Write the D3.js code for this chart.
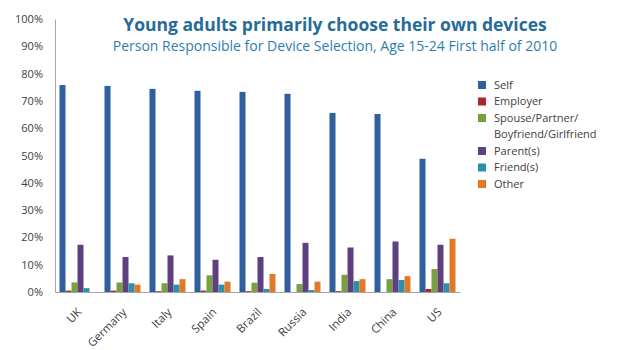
<!DOCTYPE html>
<html>
<head>
<meta charset="utf-8">
<script src="https://cdn.jsdelivr.net/npm/d3@7"></script>
<style>
  html, body { margin: 0; padding: 0; background: #fff; }
  svg { display: block; font-family: "Open Sans", sans-serif; }
</style>
</head>
<body>
<svg id="chart" width="620" height="350"></svg>
<script>
const categories = ["UK", "Germany", "Italy", "Spain", "Brazil", "Russia", "India", "China", "US"];
const seriesNames = ["Self", "Employer", "Spouse/Partner/\nBoyfriend/Girlfriend", "Parent(s)", "Friend(s)", "Other"];
const selfValues     = [75.8, 75.5, 74.4, 73.7, 73.3, 72.6, 65.6, 65.2, 48.8];
const employerValues = [0.5, 0.5, 0.3, 0.5, 0.3, 0.0, 0.3, 0.0, 1.1];
const spouseValues   = [3.5, 3.5, 3.2, 6.1, 3.4, 2.9, 6.3, 4.7, 8.4];
const parentValues   = [17.3, 12.8, 13.4, 11.8, 12.8, 18.0, 16.3, 18.5, 17.3];
const friendValues   = [1.4, 3.2, 2.7, 2.7, 1.1, 0.7, 4.0, 4.4, 3.2];
const otherValues    = [0.0, 2.7, 4.7, 3.8, 6.6, 3.8, 4.7, 5.8, 19.5];
const yTicks = [0, 10, 20, 30, 40, 50, 60, 70, 80, 90, 100];
const colors = ["#2f5f9c", "#a8282d", "#78a03c", "#5e3f80", "#2c90aa", "#e07a28"];

const series = [selfValues, employerValues, spouseValues, parentValues, friendValues, otherValues];

const svg = d3.select("#chart");
const plotLeft = 55, plotRight = 460, plotTop = 19, plotBottom = 292;

const x0 = d3.scaleBand().domain(categories).range([plotLeft, plotRight]).padding(0);
const x1 = d3.scaleBand().domain(d3.range(series.length)).range([4.5, 40.5]).padding(0);
const y = d3.scaleLinear().domain([0, 100]).range([plotBottom, plotTop]);

// Title
svg.append("text").attr("x", 335).attr("y", 31)
  .attr("text-anchor", "middle").attr("font-weight", "bold").attr("font-size", 17.5)
  .attr("fill", "#276c98").text("Young adults primarily choose their own devices");
svg.append("text").attr("x", 335).attr("y", 51)
  .attr("text-anchor", "middle").attr("font-size", 14)
  .attr("fill", "#2f7db0").text("Person Responsible for Device Selection, Age 15-24 First half of 2010");

// Y axis
const yAxis = d3.axisLeft(y).tickValues(yTicks).tickSize(0).tickPadding(12)
  .tickFormat(d => d + "%");
const gy = svg.append("g").attr("transform", `translate(${plotLeft},0)`).call(yAxis);
gy.select(".domain").attr("stroke", "#a6a6a6");
gy.selectAll("text").attr("font-size", 11).attr("fill", "#404040").attr("font-family", "Open Sans, sans-serif");

// Bars
const groups = svg.append("g").selectAll("g").data(categories).join("g")
  .attr("transform", d => `translate(${x0(d)},0)`);
groups.selectAll("rect")
  .data((c, i) => series.map((s, j) => ({ j, v: s[i] })))
  .join("rect")
  .attr("x", d => x1(d.j))
  .attr("width", x1.bandwidth())
  .attr("y", d => y(d.v))
  .attr("height", d => y(0) - y(d.v))
  .attr("fill", d => colors[d.j]);

// X axis
const xAxis = d3.axisBottom(x0).tickSize(0).tickPadding(0);
const gx = svg.append("g").attr("transform", `translate(0,${plotBottom})`).call(xAxis);
gx.select(".domain").attr("stroke", "#a6a6a6");
gx.selectAll(".tick text")
  .attr("font-size", 11.5).attr("fill", "#404040").attr("font-family", "Open Sans, sans-serif")
  .attr("text-anchor", "end")
  .attr("transform", "translate(2,18) rotate(-45)")
  .attr("dy", "0.35em");

// Legend
const legendItems = [
  { j: 0, lines: ["Self"], y: 85 },
  { j: 1, lines: ["Employer"], y: 101.5 },
  { j: 2, lines: ["Spouse/Partner/", "Boyfriend/Girlfriend"], y: 118 },
  { j: 3, lines: ["Parent(s)"], y: 151 },
  { j: 4, lines: ["Friend(s)"], y: 167.5 },
  { j: 5, lines: ["Other"], y: 184 }
];
const lg = svg.append("g");
legendItems.forEach(it => {
  lg.append("rect").attr("x", 478).attr("y", it.y - 4).attr("width", 8).attr("height", 8)
    .attr("fill", colors[it.j]);
  it.lines.forEach((t, k) => {
    lg.append("text").attr("x", 494).attr("y", it.y + k * 16.5).attr("dy", "0.35em")
      .attr("font-size", 11).attr("fill", "#404040").text(t);
  });
});
</script>
</body>
</html>
